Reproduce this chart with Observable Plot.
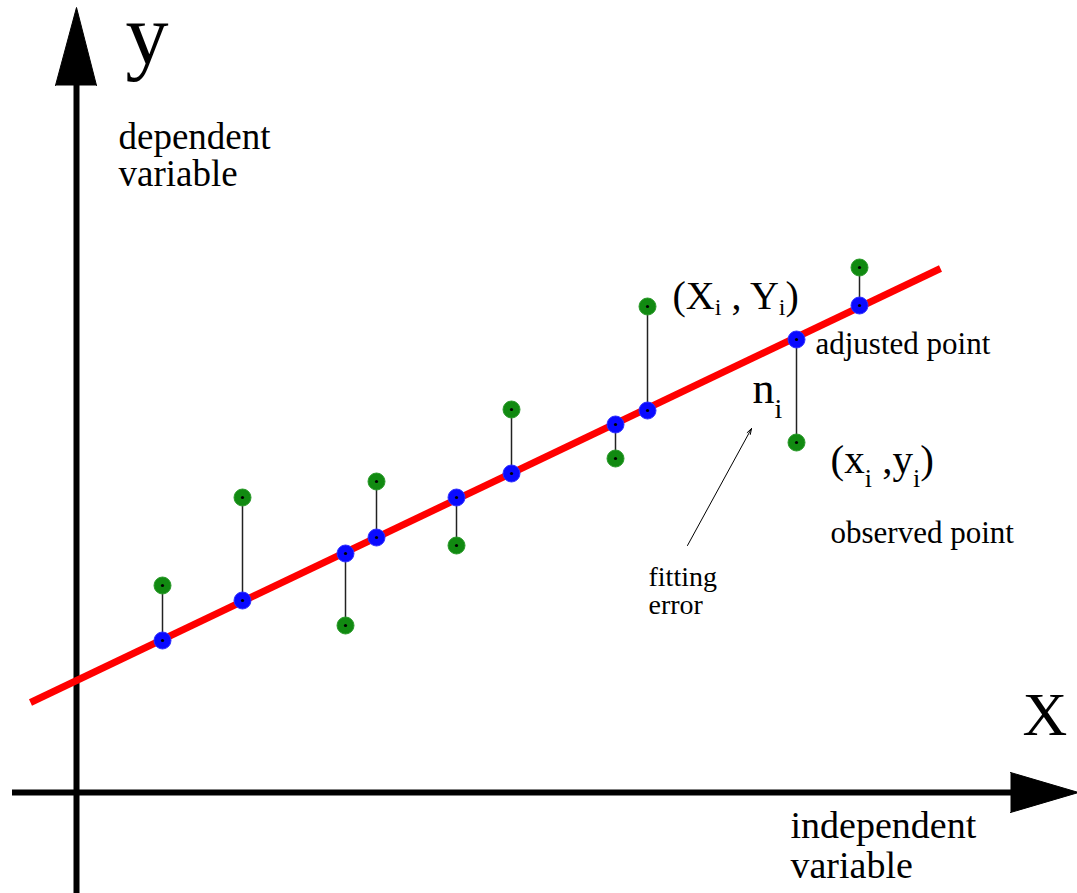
<!DOCTYPE html>
<html><head><meta charset="utf-8">
<script src="https://cdn.jsdelivr.net/npm/d3@7"></script>
<script src="https://cdn.jsdelivr.net/npm/@observablehq/plot@0.6"></script>
<style>html,body{margin:0;padding:0;background:#fff;} svg{display:block} text{white-space:pre}</style>
</head><body><div id="chart"></div>
<script>
// x positions of the samples (axis units)
const sampleX   = [0.86, 1.66, 2.69, 3.00, 3.80, 4.35, 5.39, 5.71, 7.20, 7.83];
// adjusted (fitted) values, lying on the regression line
const fittedY   = [1.52, 1.92, 2.39, 2.55, 2.95, 3.19, 3.68, 3.82, 4.53, 4.87];
// observed values
const observedY = [2.07, 2.95, 1.67, 3.11, 2.47, 3.83, 3.34, 4.86, 3.50, 5.25];
// regression line end points
const fitLineX = [-0.46, 8.64];
const fitLineY = [0.90, 5.24];
// axis arrow heads
const yArrowX = [-0.21, 0, 0.20];
const yArrowY = [7.07, 7.85, 7.07];
const xArrowX = [9.34, 10.02, 9.34];
const xArrowY = [0.20, 0, -0.20];
// annotation arrow "fitting error" -> n_i
const noteArrow = [{x1: 6.11, y1: 2.47, x2: 6.75, y2: 3.64}];
// labels
const labels = [
  {text: "y", x: 0.49, y: 7.30, size: 86, lh: 1},
  {text: "dependent\nvariable", x: 0.42, y: 6.07, size: 37, lh: 1},
  {text: "X", x: 9.46, y: 0.58, size: 62, lh: 1},
  {text: "independent\nvariable", x: 7.14, y: -0.85, size: 38, lh: 1.05},
  {text: "(X_i , Y_i)", x: 5.96, y: 4.84, size: 40, lh: 1, sub: [24, 6]},
  {text: "adjusted point", x: 7.39, y: 4.39, size: 31, lh: 1},
  {text: "n_i", x: 6.76, y: 3.90, size: 44, lh: 1, sub: [28, 15]},
  {text: "(x_i ,y_i)", x: 7.54, y: 3.20, size: 41, lh: 1, sub: [26, 14]},
  {text: "observed point", x: 7.54, y: 2.50, size: 31, lh: 1},
  {text: "fitting\nerror", x: 5.72, y: 1.79, size: 28, lh: 1}
];

const pts = sampleX.map((x, i) => ({x, fit: fittedY[i], obs: observedY[i]}));
const fitLine = fitLineX.map((x, i) => ({x, y: fitLineY[i]}));
const yArrow = yArrowX.map((x, i) => ({x, y: yArrowY[i]}));
const xArrow = xArrowX.map((x, i) => ({x, y: xArrowY[i]}));
const FONT = "'Liberation Serif', 'Times New Roman', serif";

const plot = Plot.plot({
  width: 1077, height: 893,
  marginTop: 0, marginRight: 0, marginBottom: 0, marginLeft: 0,
  style: {background: "#fff", fontFamily: FONT},
  x: {domain: [-0.76, 10.01], axis: null},
  y: {domain: [-1.01, 7.92], axis: null},
  marks: [
    Plot.ruleX([0], {y1: -1.01, y2: 7.10, stroke: "black", strokeWidth: 6}),
    Plot.ruleY([0], {x1: -0.64, x2: 9.36, stroke: "black", strokeWidth: 6}),
    Plot.line(yArrow, {x: "x", y: "y", fill: "black", stroke: "black", strokeWidth: 1}),
    Plot.line(xArrow, {x: "x", y: "y", fill: "black", stroke: "black", strokeWidth: 1}),
    Plot.line(fitLine, {x: "x", y: "y", stroke: "#ff0000", strokeWidth: 7, strokeLinecap: "butt"}),
    Plot.link(pts, {x1: "x", y1: "fit", x2: "x", y2: "obs", stroke: "#222", strokeWidth: 1.5}),
    Plot.dot(pts, {x: "x", y: "obs", r: 8.5, fill: "#118a11", stroke: "#2a9a2a", strokeWidth: 1}),
    Plot.dot(pts, {x: "x", y: "fit", r: 8.5, fill: "#0a0aff", stroke: "#3030ff", strokeWidth: 1}),
    Plot.dot(pts, {x: "x", y: "obs", r: 1.6, fill: "black"}),
    Plot.dot(pts, {x: "x", y: "fit", r: 1.6, fill: "black"}),
    Plot.arrow(noteArrow, {x1: "x1", y1: "y1", x2: "x2", y2: "y2", stroke: "black", strokeWidth: 1, headLength: 9, headAngle: 35}),
    ...labels.map((l, i) => Plot.text([l], {
      x: "x", y: "y", text: "text", fontSize: l.size, lineHeight: l.lh,
      textAnchor: "start", lineAnchor: "bottom", fill: "black", fontFamily: FONT,
      className: "lbl-" + i
    }))
  ]
});
document.getElementById("chart").appendChild(plot);

// subscripts
labels.forEach((l, i) => {
  if (!l.sub) return;
  const [subSize, shift] = l.sub;
  d3.select(plot).selectAll(".lbl-" + i + " text").each(function() {
    const t = d3.select(this);
    const parts = l.text.split(/_(\w)/);
    t.text(null);
    let down = false;
    parts.forEach((p, k) => {
      if (p === "") { return; }
      const isSub = k % 2 === 1;
      const ts = t.append("tspan").text(p);
      if (isSub) {
        ts.attr("font-size", subSize).attr("dy", down ? 0 : shift);
        down = true;
      } else if (down) {
        ts.attr("dy", -shift);
        down = false;
      }
    });
  });
});
</script>
</body></html>
